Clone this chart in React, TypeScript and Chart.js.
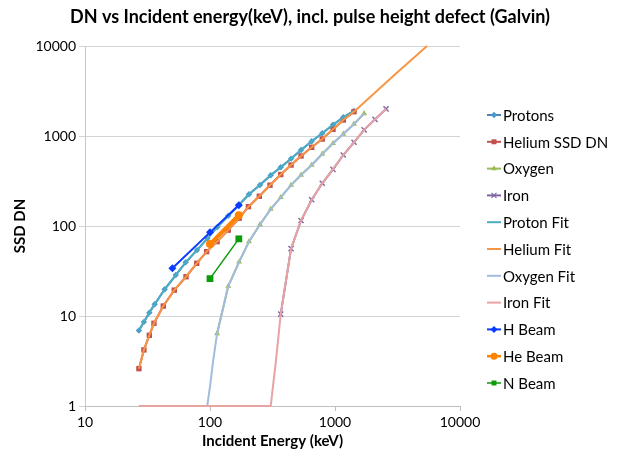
import React, { useEffect, useRef } from 'react';
import { Chart, registerables } from 'chart.js';

Chart.register(...registerables);

// ---------- data (keV, SSD DN) ----------
const protonE = [27, 29.6, 32.7, 36.1, 43.4, 53.2, 63.9, 78.7, 95.5, 114, 140, 171, 205, 251, 306, 368, 445, 535, 651, 791, 964, 1165, 1419];
const protonDN = [6.9, 8.6, 10.9, 13.5, 19.8, 28.5, 39.5, 54, 73, 97, 130, 172, 225, 285, 366, 449, 560, 699, 873, 1071, 1336, 1614, 1900];

const heliumE = [27, 29.6, 32.7, 35.6, 42.3, 51.8, 64.3, 78.3, 94, 114, 140, 171, 203, 248, 302, 368, 445, 535, 651, 791, 964, 1165, 1419];
const heliumDN = [2.6, 4.2, 6.1, 8.3, 12.9, 19.4, 27.3, 38.5, 51.9, 67, 90, 122, 164, 214, 284, 373, 476, 600, 749, 926, 1186, 1506, 1862];

const oxygenE = [114, 140, 171, 205, 251, 306, 368, 445, 535, 651, 791, 964, 1165, 1419, 1710];
const oxygenDN = [6.4, 21.5, 40, 67, 104, 154, 208, 285, 369, 476, 631, 830, 1052, 1360, 1780];

const ironE = [368, 445, 535, 651, 791, 964, 1165, 1419, 1710, 2089, 2560];
const ironDN = [10.5, 56, 115, 196, 298, 426, 615, 851, 1170, 1530, 2000];

const protonFitE = [27, 29.6, 32.7, 36.1, 43.4, 53.2, 63.9, 78.7, 95.5, 114, 140, 171, 205, 251, 306, 368, 445, 535, 651, 791, 964, 1165, 1419];
const protonFitDN = [6.9, 8.6, 10.9, 13.5, 19.8, 28.5, 39.5, 54, 73, 97, 130, 172, 225, 285, 366, 449, 560, 699, 873, 1071, 1336, 1614, 1900];

const heliumFitE = [27, 29.6, 32.7, 35.6, 42.3, 51.8, 64.3, 78.3, 94, 114, 140, 171, 203, 248, 302, 368, 445, 535, 651, 791, 964, 1165, 1419, 3000, 5450];
const heliumFitDN = [2.6, 4.2, 6.1, 8.3, 12.9, 19.4, 27.3, 38.5, 51.9, 67, 90, 122, 164, 214, 284, 373, 476, 600, 749, 926, 1186, 1506, 1862, 4790, 10000];

const oxygenFitE = [95, 100, 106, 114, 140, 171, 205, 251, 306, 368, 445, 535, 651, 791, 964, 1165, 1419, 1710];
const oxygenFitDN = [1, 1.64, 3.2, 6.4, 21.5, 40, 67, 104, 154, 208, 285, 369, 476, 631, 830, 1052, 1360, 1780];

const ironFitE = [27, 306, 337, 368, 445, 535, 651, 791, 964, 1165, 1419, 1710, 2089, 2560];
const ironFitDN = [1, 1, 3.2, 10.5, 56, 115, 196, 298, 426, 615, 851, 1170, 1530, 2000];

const hBeamE = [50, 100, 170];
const hBeamDN = [34, 85, 170];

const heBeamE = [100, 170];
const heBeamDN = [63, 132];

const nBeamE = [100, 170];
const nBeamDN = [26, 72];

const xTicks = [10, 100, 1000, 10000];
const yTicks = [1, 10, 100, 1000, 10000];

const chartTitle = 'DN vs Incident energy(keV), incl. pulse height defect (Galvin)';
const xTitle = 'Incident Energy (keV)';
const yTitle = 'SSD DN';

type Series = {
  label: string;
  xs: number[];
  ys: number[];
  color: string;
  width: number;
  marker: string | false;
  radius: number;
  fill?: string;
};

const series: Series[] = [
  { label: 'Protons', xs: protonE, ys: protonDN, color: '#4F81BD', width: 2, marker: 'rectRot', radius: 3.2, fill: '#4A9CC8' },
  { label: 'Helium SSD DN', xs: heliumE, ys: heliumDN, color: '#C0504D', width: 2, marker: 'rect', radius: 3.8 },
  { label: 'Oxygen', xs: oxygenE, ys: oxygenDN, color: '#9BBB59', width: 2, marker: 'triangle', radius: 3.4 },
  { label: 'Iron', xs: ironE, ys: ironDN, color: '#8064A2', width: 2, marker: 'crossRot', radius: 3.6 },
  { label: 'Proton Fit', xs: protonFitE, ys: protonFitDN, color: '#4BACC6', width: 2, marker: false, radius: 0 },
  { label: 'Helium Fit', xs: heliumFitE, ys: heliumFitDN, color: '#F79646', width: 2, marker: false, radius: 0 },
  { label: 'Oxygen Fit', xs: oxygenFitE, ys: oxygenFitDN, color: '#A2BCE0', width: 2, marker: false, radius: 0 },
  { label: 'Iron Fit', xs: ironFitE, ys: ironFitDN, color: '#E8A3A2', width: 2, marker: false, radius: 0 },
  { label: 'H Beam', xs: hBeamE, ys: hBeamDN, color: '#0A3CFF', width: 2, marker: 'rectRot', radius: 4 },
  { label: 'He Beam', xs: heBeamE, ys: heBeamDN, color: '#FF8200', width: 4, marker: 'circle', radius: 4 },
  { label: 'N Beam', xs: nBeamE, ys: nBeamDN, color: '#0A9A0A', width: 1.5, marker: 'rect', radius: 4.8 },
];

const FONT = 'Lato, "Open Sans", "DejaVu Sans", sans-serif';

function drawMarker(ctx: CanvasRenderingContext2D, style: string, x: number, y: number, r: number, color: string) {
  ctx.save();
  ctx.fillStyle = color;
  ctx.strokeStyle = color;
  ctx.lineWidth = 1.2;
  ctx.beginPath();
  if (style === 'rectRot') {
    ctx.moveTo(x, y - r);
    ctx.lineTo(x + r, y);
    ctx.lineTo(x, y + r);
    ctx.lineTo(x - r, y);
    ctx.closePath();
    ctx.fill();
  } else if (style === 'rect') {
    const h = r * Math.SQRT1_2;
    ctx.rect(x - h, y - h, 2 * h, 2 * h);
    ctx.fill();
  } else if (style === 'triangle') {
    ctx.moveTo(x, y - r);
    ctx.lineTo(x + r * 0.87, y + r * 0.5);
    ctx.lineTo(x - r * 0.87, y + r * 0.5);
    ctx.closePath();
    ctx.fill();
  } else if (style === 'crossRot') {
    const h = r * Math.SQRT1_2;
    ctx.moveTo(x - h, y - h);
    ctx.lineTo(x + h, y + h);
    ctx.moveTo(x + h, y - h);
    ctx.lineTo(x - h, y + h);
    ctx.stroke();
  } else if (style === 'circle') {
    ctx.arc(x, y, r, 0, Math.PI * 2);
    ctx.fill();
  }
  ctx.restore();
}

const overlayPlugin = {
  id: 'overlay',
  afterDraw(chart: any) {
    const ctx: CanvasRenderingContext2D = chart.ctx;
    ctx.save();
    // title
    ctx.fillStyle = '#000';
    ctx.font = `bold 18px ${FONT}`;
    ctx.textAlign = 'center';
    ctx.textBaseline = 'middle';
    ctx.fillText(chartTitle, 310, 17);
    // legend
    const x0 = 487;
    const x1 = 501;
    const top = 115;
    const step = 26.8;
    ctx.font = `15px ${FONT}`;
    ctx.textAlign = 'left';
    series.forEach((s, i) => {
      const y = top + i * step;
      ctx.strokeStyle = s.color;
      ctx.lineWidth = Math.min(s.width, 2.5);
      ctx.beginPath();
      ctx.moveTo(x0, y);
      ctx.lineTo(x1, y);
      ctx.stroke();
      if (s.marker) drawMarker(ctx, s.marker, (x0 + x1) / 2, y, Math.min(s.radius, 3.5), s.fill || s.color);
      ctx.fillStyle = '#000';
      ctx.fillText(s.label, 503, y + 1);
    });
    ctx.restore();
  },
};

export default function App() {
  const ref = useRef<HTMLCanvasElement>(null);

  useEffect(() => {
    const canvas = ref.current;
    if (!canvas) return;
    const datasets = series.map((s, i) => ({
      label: s.label,
      data: s.xs.map((x, k) => ({ x, y: s.ys[k] })),
      showLine: true,
      borderColor: s.color,
      backgroundColor: s.fill || s.color,
      borderWidth: s.width,
      pointStyle: s.marker || 'circle',
      pointRadius: s.marker ? s.radius : 0,
      pointBorderWidth: s.marker === 'crossRot' ? 1.4 : 0,
      pointBorderColor: s.color,
      pointBackgroundColor: s.fill || s.color,
      pointHoverRadius: s.marker ? s.radius : 0,
      tension: 0,
      clip: 4,
      order: -i,
    }));

    const chart = new Chart(canvas, {
      type: 'scatter',
      data: { datasets },
      options: {
        responsive: false,
        animation: false,
        events: [],
        layout: { padding: { top: 46, right: 157, left: 0, bottom: 0 } },
        plugins: {
          legend: { display: false },
          title: { display: false },
          tooltip: { enabled: false },
        },
        scales: {
          x: {
            type: 'logarithmic',
            min: 10,
            max: 10000,
            afterBuildTicks: (scale: any) => {
              scale.ticks = xTicks.map((v) => ({ value: v }));
            },
            afterFit: (scale: any) => {
              scale.height = 52;
            },
            ticks: {
              callback: (v: any) => String(v),
              color: '#000',
              font: { family: FONT, size: 14 },
              padding: 3,
              maxRotation: 0,
              autoSkip: false,
            },
            grid: { drawOnChartArea: false, drawTicks: true, tickLength: 5, color: '#BFBFBF' },
            border: { display: true, color: '#BFBFBF' },
            title: {
              display: true,
              text: xTitle,
              color: '#000',
              font: { family: FONT, size: 15, weight: 'bold' },
              padding: { top: 0, bottom: 8 },
            },
          },
          y: {
            type: 'logarithmic',
            min: 1,
            max: 10000,
            afterBuildTicks: (scale: any) => {
              scale.ticks = yTicks.map((v) => ({ value: v }));
            },
            afterFit: (scale: any) => {
              scale.width = 85;
            },
            ticks: {
              callback: (v: any) => String(v),
              color: '#000',
              font: { family: FONT, size: 14 },
              padding: 3,
              autoSkip: false,
            },
            grid: { drawOnChartArea: true, drawTicks: true, tickLength: 6, color: '#D4D4D4' },
            border: { display: true, color: '#C8C8C8' },
            title: {
              display: true,
              text: yTitle,
              color: '#000',
              font: { family: FONT, size: 15, weight: 'bold' },
              padding: { top: 11, bottom: 0 },
            },
          },
        },
      } as any,
      plugins: [overlayPlugin],
    });

    return () => chart.destroy();
  }, []);

  return (
    <div style={{ position: 'absolute', left: 0, top: 0, width: 617, height: 458, background: '#fff' }}>
      <canvas ref={ref} width={617} height={458} style={{ display: 'block', width: 617, height: 458 }} />
    </div>
  );
}
